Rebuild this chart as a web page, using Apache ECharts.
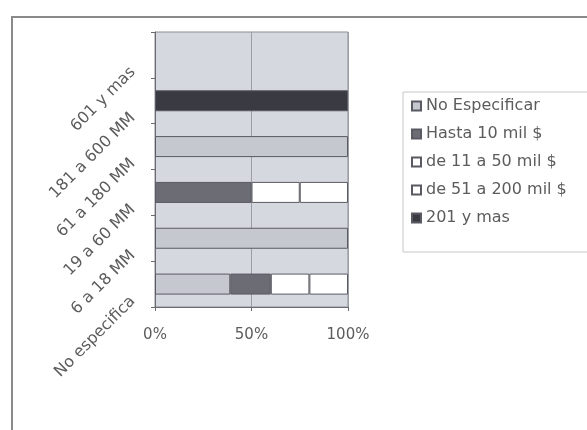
<!DOCTYPE html>
<html>
<head>
<meta charset="utf-8">
<script src="https://cdn.jsdelivr.net/npm/echarts@6/dist/echarts.min.js"></script>
<style>html,body{margin:0;padding:0;background:#fff}#c{width:587px;height:430px}</style>
</head>
<body>
<div id="c"></div>
<script>
// Categories, bottom to top
const categories = ['No especifica', '6 a 18 MM', '19 a 60 MM', '61 a 180 MM', '181 a 600 MM', '601 y mas'];
const seriesNames = ['No Especificar', 'Hasta 10 mil $', 'de 11 a 50 mil $', 'de 51 a 200 mil $', '201 y mas'];
const noEspecificar = [39, 100, null, 100, null, null];
const hasta10 = [21, null, 50, null, null, null];
const de11a50 = [20, null, 25, null, null, null];
const de51a200 = [20, null, 25, null, null, null];
const mas201 = [null, null, null, null, 100, null];
const xTicks = [0, 50, 100];

const values = [noEspecificar, hasta10, de11a50, de51a200, mas201];
const fills = ['#c6c8d0', '#6c6c74', '#ffffff', '#ffffff', '#3a3a42'];

const chart = echarts.init(document.getElementById('c'));
const font = 'DejaVu Sans';
chart.setOption({
  animation: false,
  backgroundColor: '#ffffff',
  graphic: [{
    type: 'rect', shape: {x: 12, y: 17, width: 620, height: 460},
    style: {fill: 'none', stroke: '#8a8a8a', lineWidth: 2}, silent: true
  }],
  grid: {left: 155, right: 239, top: 32, bottom: 123, show: true,
    backgroundColor: '#d6d8e0', borderColor: '#8c8e96', borderWidth: 1},
  legend: {
    orient: 'vertical', left: 403, top: 92,
    padding: [6, 30, 26, 8], itemGap: 12,
    itemWidth: 9, itemHeight: 9, icon: 'rect',
    borderColor: '#c8c8c8', borderWidth: 1,
    textStyle: {fontFamily: font, fontSize: 16, color: '#5c5c5c'},
    data: seriesNames
  },
  xAxis: {
    type: 'value', min: xTicks[0], max: xTicks[xTicks.length - 1], interval: 50,
    axisLine: {show: true, lineStyle: {color: '#6a6a70'}},
    axisTick: {show: true, length: 4, lineStyle: {color: '#6a6a70'}},
    splitLine: {show: true, lineStyle: {color: '#9c9ea6'}},
    axisLabel: {formatter: '{value}%', fontFamily: font, fontSize: 15, color: '#5c5c5c', margin: 21}
  },
  yAxis: [{
    type: 'category', data: categories,
    axisLine: {show: true, lineStyle: {color: '#6a6a70'}},
    axisTick: {show: false}, axisLabel: {show: false}
  }, {
    type: 'category', data: categories.concat(['']), boundaryGap: false,
    position: 'left', offset: 0,
    axisLine: {show: false},
    axisTick: {show: true, length: 4, lineStyle: {color: '#6a6a70'}},
    splitLine: {show: false},
    axisLabel: {
      rotate: 45, margin: 14, interval: 0,
      formatter: v => v ? '{a|' + v + '}' : '',
      rich: {a: {padding: [0, 0, 23, 0], fontFamily: font, fontSize: 16, color: '#5c5c5c'}}
    }
  }],
  series: seriesNames.map((name, i) => ({
    name: name, type: 'bar', stack: 'total', yAxisIndex: 0,
    barWidth: 21,
    data: values[i],
    itemStyle: {color: fills[i], borderColor: '#5a5a62', borderWidth: 1}
  }))
});
</script>
</body>
</html>
